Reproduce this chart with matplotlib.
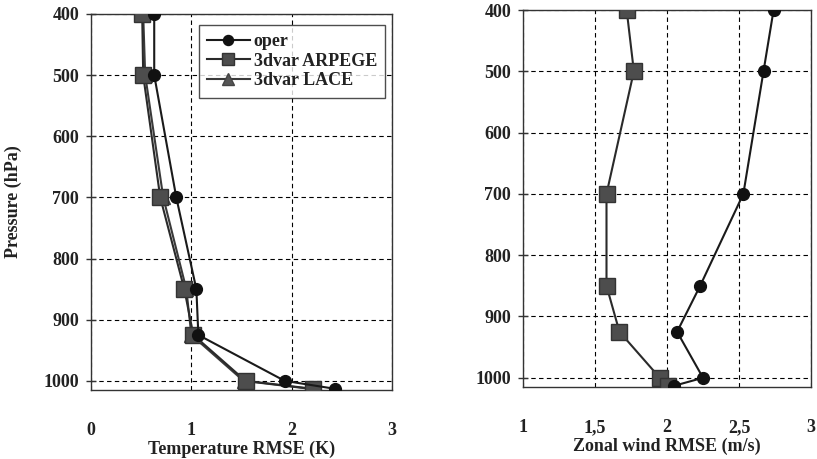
import matplotlib.pyplot as plt

levels = [400, 500, 700, 850, 925, 1000, 1013]

temp_oper = [0.63, 0.63, 0.85, 1.05, 1.07, 1.93, 2.43]
temp_arpege = [0.51, 0.52, 0.69, 0.93, 1.02, 1.54, 2.21]
temp_lace = [0.52, 0.54, 0.72, 0.95, 1.00, 1.52, 2.18]

wind_oper = [2.74, 2.67, 2.53, 2.23, 2.07, 2.25, 2.05]
wind_arpege = [1.72, 1.77, 1.58, 1.58, 1.67, 1.95, 2.01]

y_ticks = [400, 500, 600, 700, 800, 900, 1000]
temp_xticks = [0, 1, 2, 3]
temp_xlabels = ['0', '1', '2', '3']
wind_xticks = [1, 1.5, 2, 2.5, 3]
wind_xlabels = ['1', '1,5', '2', '2,5', '3']

plt.rcParams['font.family'] = ['Liberation Serif', 'DejaVu Serif']
plt.rcParams['font.weight'] = 'bold'
txt = '#222222'

fig = plt.figure(figsize=(8.17, 4.59), dpi=100)
ax1 = fig.add_axes([0.1114, 0.1503, 0.3684, 0.8192])
ax2 = fig.add_axes([0.6401, 0.1569, 0.3526, 0.8213])

oper_kw = dict(color='#1a1a1a', lw=1.5, marker='o', ms=8.5, mfc='#111111', mec='#111111', zorder=4)
arp_kw = dict(color='#2a2a2a', lw=1.5, marker='s', ms=11, mfc='#4d4d4d', mec='#333333', zorder=3)
lace_kw = dict(color='#3a3a3a', lw=1.5, marker='^', ms=10, mfc='#555555', mec='#444444', zorder=2)

ax1.plot(temp_lace, levels, label='3dvar LACE', **lace_kw)
ax1.plot(temp_arpege, levels, label='3dvar ARPEGE', **arp_kw)
ax1.plot(temp_oper, levels, label='oper', **oper_kw)

ax2.plot(wind_arpege, levels, **arp_kw)
ax2.plot(wind_oper, levels, **oper_kw)


def style(ax, xlim, xticks, xlabels, xlabel):
    ax.set_xlim(*xlim)
    ax.set_ylim(1015, 400)
    ax.set_yticks(y_ticks)
    ax.set_xticks(xticks)
    ax.set_xticklabels(xlabels)
    ax.grid(True, color='black', ls=(0, (4, 3)), lw=0.8)
    ax.set_axisbelow(True)
    for s in ax.spines.values():
        s.set_color('#333333')
        s.set_linewidth(1.0)
    ax.tick_params(axis='y', direction='inout', length=7, width=1, colors='#333333',
                   labelsize=13, labelcolor=txt, pad=5)
    ax.tick_params(axis='x', length=0, labelsize=13, labelcolor=txt, pad=23)
    ax.set_xlabel(xlabel, fontsize=13, color=txt, fontweight='bold')
    ax.xaxis.set_label_coords(0.5, -0.135)


style(ax1, (0, 3), temp_xticks, temp_xlabels, 'Temperature RMSE (K)')
style(ax2, (1, 3), wind_xticks, wind_xlabels, 'Zonal wind RMSE (m/s)')

ax1.set_ylabel('Pressure (hPa)', fontsize=13, color=txt, fontweight='bold')
ax1.yaxis.set_label_coords(-0.229, 0.5)

h, l = ax1.get_legend_handles_labels()
leg = ax1.legend(h[::-1], l[::-1], loc='upper right', bbox_to_anchor=(0.977, 0.971),
                 borderaxespad=0, fontsize=13, frameon=True, fancybox=False,
                 handlelength=2.4, handletextpad=0.2, labelspacing=0.15,
                 borderpad=0.45, markerscale=0.85)
leg.get_frame().set_edgecolor('#222222')
leg.get_frame().set_linewidth(1.0)
for t in leg.get_texts():
    t.set_color(txt)

fig.savefig('out.png', dpi=100)
